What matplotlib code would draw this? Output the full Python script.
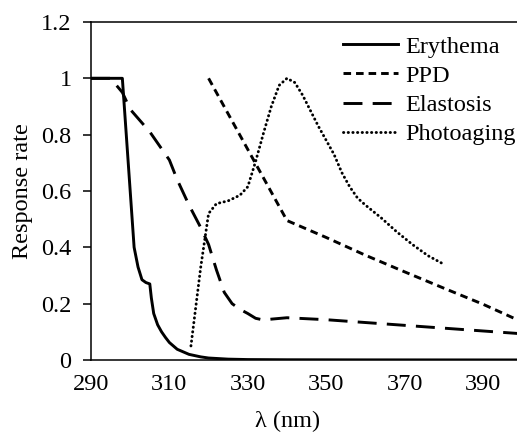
#!/usr/bin/env python3
import matplotlib
matplotlib.use("Agg")
import matplotlib.pyplot as plt
from matplotlib.ticker import FuncFormatter

plt.rcParams["font.family"] = ["Liberation Serif", "DejaVu Serif"]

# action spectra
ery_x = [290, 298, 299, 300, 301, 302, 303, 304, 305, 305.4, 306, 307, 308, 309, 310,
         312, 315, 318, 320, 325, 330, 340, 360, 400]
ery_y = [1.0, 1.0, 0.8, 0.6, 0.40, 0.33, 0.285, 0.275, 0.27, 0.22, 0.165, 0.125, 0.10,
         0.08, 0.062, 0.038, 0.02, 0.011, 0.007, 0.003, 0.0015, 0.0008, 0.0004, 0.0001]

ppd_x = [320, 340, 350, 360, 370, 380, 390, 400]
ppd_y = [1.0, 0.495, 0.435, 0.372, 0.313, 0.255, 0.198, 0.135]

ela_x = [290, 295, 298, 300, 305, 310, 312, 315, 318, 320, 322, 324, 326, 328, 330,
         332, 334, 336, 340, 350, 360, 370, 380, 390, 400]
ela_y = [1.0, 1.0, 0.95, 0.89, 0.81, 0.71, 0.64, 0.55, 0.47, 0.41, 0.32, 0.24, 0.20,
         0.18, 0.165, 0.148, 0.142, 0.145, 0.15, 0.143, 0.133, 0.123, 0.113, 0.103, 0.093]

pho_x = [315.5, 318, 320, 322, 325, 328, 330, 332, 334, 336, 338, 340, 342, 344, 346,
         348, 350, 352, 354, 356, 358, 360, 364, 368, 372, 376, 380]
pho_y = [0.05, 0.33, 0.52, 0.555, 0.565, 0.585, 0.615, 0.705, 0.805, 0.9, 0.975, 1.0,
         0.985, 0.94, 0.885, 0.83, 0.78, 0.73, 0.665, 0.615, 0.575, 0.55, 0.505, 0.455,
         0.41, 0.37, 0.34]

fig = plt.figure(figsize=(5.17, 4.32), dpi=100)
ax = fig.add_axes([0.176, 0.1667, 0.834, 0.7824])

lw = 2.1
ax.plot(ery_x, ery_y, color="black", lw=lw, label="Erythema")
ax.plot(ppd_x, ppd_y, color="black", lw=lw, dashes=(2.6, 1.7), label="PPD")
ax.plot(ela_x, ela_y, color="black", lw=lw, dashes=(6.5, 3.5), label="Elastosis")
ax.plot(pho_x, pho_y, color="black", lw=lw, dashes=(0.1, 1.5),
        dash_capstyle="round", label="Photoaging")

ax.set_xlim(290, 400)
ax.set_ylim(0, 1.2)
ax.set_xticks([290, 310, 330, 350, 370, 390])
ax.set_yticks([0, 0.2, 0.4, 0.6, 0.8, 1.0, 1.2])
ax.yaxis.set_major_formatter(FuncFormatter(lambda v, p: f"{v:g}"))
ax.tick_params(axis="x", length=0, pad=10, labelsize=17.5)
ax.tick_params(axis="y", length=6, width=1.1, pad=8, labelsize=17.5, direction="out")

for s in ["left", "bottom", "top"]:
    ax.spines[s].set_linewidth(1.1)
ax.spines["right"].set_visible(False)

ax.set_xlabel("λ (nm)", fontsize=17.5)
ax.xaxis.set_label_coords(0.457, -0.15)
ax.set_ylabel("Response rate", fontsize=17.5)
ax.yaxis.set_label_coords(-0.135, 0.5)

ax.legend(loc="upper left", bbox_to_anchor=(0.585, 0.96), frameon=False,
          fontsize=17.5, handlelength=2.25, handletextpad=0.3, labelspacing=0.3,
          borderpad=0, borderaxespad=0)

fig.savefig("out.png", dpi=100)
